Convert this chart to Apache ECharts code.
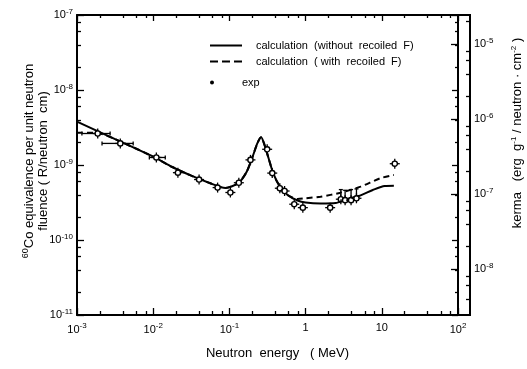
<!DOCTYPE html>
<html>
<head>
<meta charset="utf-8">
<script src="https://cdn.jsdelivr.net/npm/echarts@6/dist/echarts.min.js"></script>
<style>
html, body { margin: 0; background: #fff; }
#dataView { width: 527px; height: 369px; }
</style>
</head>
<body>
<div id="dataView"></div>
<script>
// calculated curve, without recoiled F (solid)
var energyCalc = [0.001, 0.00316, 0.01, 0.0178, 0.0316, 0.0562, 0.0886, 0.131, 0.168, 0.201, 0.234, 0.261,
	0.289, 0.326, 0.379, 0.455, 0.58, 0.785, 1.0, 1.57, 2.48, 3.36, 4.98, 7.62, 10.9, 14.4];
var withoutRecoil = [3.78e-9, 2.21e-9, 1.29e-9, 9.4e-10, 7.2e-10, 5.7e-10, 4.93e-10, 5.75e-10, 8.07e-10, 1.28e-9, 1.97e-9, 2.34e-9,
	1.85e-9, 1.24e-9, 7.6e-10, 5.25e-10, 3.98e-10, 3.36e-10, 3.16e-10, 3.07e-10, 3.11e-10, 3.47e-10, 3.86e-10, 4.64e-10, 5.25e-10, 5.3e-10];

// calculated curve, with recoiled F (dashed)
var energyDashed = [0.001, 0.0019, 0.00316, 0.01, 0.0178, 0.0316, 0.0562, 0.0886, 0.131, 0.168, 0.201, 0.234, 0.261,
	0.289, 0.326, 0.379, 0.455, 0.58, 0.785, 1.0, 1.57, 2.86, 5.27, 9.5, 14.4];
var withRecoil = [2.7e-9, 2.66e-9, 2.21e-9, 1.29e-9, 9.4e-10, 7.2e-10, 5.7e-10, 4.93e-10, 5.75e-10, 8.07e-10, 1.28e-9, 1.97e-9, 2.34e-9,
	1.85e-9, 1.24e-9, 7.6e-10, 5.25e-10, 3.98e-10, 3.52e-10, 3.6e-10, 3.78e-10, 4.27e-10, 5.14e-10, 6.65e-10, 7.36e-10];

// experiment (0 = no error bar)
var expE = [0.00187, 0.0037, 0.011, 0.0211, 0.040, 0.070, 0.103, 0.133, 0.189, 0.313, 0.365, 0.459, 0.53,
	0.71, 0.92, 2.1, 2.9, 3.3, 3.95, 4.65, 14.8];
var expV = [2.63e-9, 1.94e-9, 1.26e-9, 7.9e-10, 6.4e-10, 5.0e-10, 4.3e-10, 5.8e-10, 1.17e-9, 1.62e-9, 7.8e-10, 4.9e-10, 4.5e-10,
	3.0e-10, 2.7e-10, 2.7e-10, 3.5e-10, 3.4e-10, 3.4e-10, 3.6e-10, 1.04e-9];
var expELo = [0.00116, 0.00213, 0.0089, 0, 0, 0, 0, 0, 0, 0, 0, 0, 0, 0, 0, 0, 0, 0, 0, 0, 0];
var expEHi = [0.00272, 0.00546, 0.0144, 0, 0, 0, 0, 0, 0, 0, 0, 0, 0, 0, 0, 0, 0, 0, 0, 0, 0];
var expVHi = [0, 0, 0, 0, 0, 0, 0, 0, 0, 0, 0, 0, 0, 0, 0, 0, 4.7e-10, 4.6e-10, 4.7e-10, 4.8e-10, 0];

// ticks
var majorX = [1e-3, 1e-2, 1e-1, 1, 10, 100];
var majorY = [1e-11, 1e-10, 1e-9, 1e-8, 1e-7];
var majorK = [1e-8, 1e-7, 1e-6, 1e-5];
var minorMult = [2, 4, 6, 8];

function minorOf(decades) {
	var out = [];
	decades.forEach(function(d) {
		minorMult.forEach(function(m) { out.push(d * m); });
	});
	return out;
}
var minorX = minorOf([1e-3, 1e-2, 1e-1, 1, 10]);
var minorY = minorOf([1e-11, 1e-10, 1e-9, 1e-8]);
var minorK = minorOf([1e-9, 1e-8, 1e-7, 1e-6, 1e-5]);

var FONT = "'Liberation Sans', sans-serif";
var NARROW = "'Liberation Sans Narrow', 'Liberation Sans', sans-serif";
var rich = {
	b: { fontSize: 11, fontFamily: FONT, color: '#000' },
	e: { fontSize: 8, fontFamily: FONT, color: '#000', padding: [0, 0, 7, 0] }
};
function powLabel(v) {
	var e = Math.round(Math.log10(v));
	if (e === 0) return '{b|1}';
	if (e === 1) return '{b|10}';
	return '{b|10}{e|' + e + '}';
}

function lineData(xs, ys) {
	return xs.map(function(x, i) { return [x, ys[i]]; });
}
var expData = expE.map(function(x, i) {
	return [x, expV[i], expELo[i], expEHi[i], expVHi[i]];
});

function tickAxis(pos, grid, min, max, major, minor, len, isMinor) {
	return {
		type: 'log', logBase: 10, gridIndex: grid, position: pos, min: min, max: max,
		axisLine: { show: !isMinor, lineStyle: { color: '#000', width: 2 } },
		axisTick: { show: true, inside: true, length: len, customValues: isMinor ? minor : major,
			lineStyle: { color: '#000', width: 1.3 } },
		axisLabel: { show: false },
		splitLine: { show: false },
		minorTick: { show: false }
	};
}

function renderExp(params, api) {
	var p = api.coord([api.value(0), api.value(1)]);
	var st = { stroke: '#000', lineWidth: 1.3, fill: null };
	var kids = [];
	var lo = api.value(2), hi = api.value(3), vhi = api.value(4);
	if (lo > 0) {
		var a = api.coord([lo, api.value(1)]), b = api.coord([hi, api.value(1)]);
		kids.push({ type: 'line', shape: { x1: a[0], y1: p[1], x2: b[0], y2: p[1] }, style: st });
		kids.push({ type: 'line', shape: { x1: a[0], y1: p[1] - 2, x2: a[0], y2: p[1] + 2 }, style: st });
		kids.push({ type: 'line', shape: { x1: b[0], y1: p[1] - 2, x2: b[0], y2: p[1] + 2 }, style: st });
	}
	if (vhi > 0) {
		var c = api.coord([api.value(0), vhi]);
		kids.push({ type: 'line', shape: { x1: p[0], y1: p[1], x2: p[0], y2: c[1] }, style: st });
		kids.push({ type: 'line', shape: { x1: p[0] - 2, y1: c[1], x2: p[0] + 2, y2: c[1] }, style: st });
	}
	kids.push({ type: 'line', shape: { x1: p[0] - 5, y1: p[1], x2: p[0] + 5, y2: p[1] }, style: st });
	kids.push({ type: 'line', shape: { x1: p[0], y1: p[1] - 5, x2: p[0], y2: p[1] + 5 }, style: st });
	kids.push({ type: 'circle', shape: { cx: p[0], cy: p[1], r: 2.6 },
		style: { stroke: '#000', lineWidth: 1.4, fill: '#fff' } });
	return { type: 'group', children: kids };
}

var SOLID_NAME = 'calculation  (without  recoiled  F)';
var DASH_NAME = 'calculation  ( with  recoiled  F)';

var dataViewcharts = echarts.init(document.getElementById('dataView'), null, { renderer: 'canvas' });
var dataViewoption = {
	backgroundColor: '#fff',
	animation: false,
	textStyle: { fontFamily: FONT, color: '#000' },
	grid: [
		{ left: 77, right: 69, top: 15, bottom: 54, show: false },
		{ left: 458, right: 57, top: 15, bottom: 54, show: true, borderColor: '#000', borderWidth: 2, backgroundColor: 'transparent' }
	],
	legend: [{
		left: 205, top: 35, orient: 'vertical', itemWidth: 32, itemHeight: 10, itemGap: 5,
		textStyle: { fontSize: 11, fontFamily: NARROW, color: '#000', padding: [0, 0, 0, 9] },
		data: [
			{ name: SOLID_NAME, icon: 'path://M0,0H32V2H0Z', itemStyle: { color: '#000' } },
			{ name: DASH_NAME, icon: 'path://M0,0H8V2H0Z M12,0H20V2H12Z M24,0H32V2H24Z', itemStyle: { color: '#000' } }
		]
	}, {
		left: 205, top: 72, orient: 'vertical', itemWidth: 32, itemHeight: 4,
		textStyle: { fontSize: 11, fontFamily: NARROW, color: '#000', padding: [0, 0, 0, 9] },
		data: [{ name: 'exp', icon: 'circle', itemStyle: { color: '#000' } }]
	}],
	xAxis: [
		{
			type: 'log', logBase: 10, gridIndex: 0, position: 'bottom', min: 1e-3, max: 100,
			name: 'Neutron  energy   ( MeV)', nameLocation: 'middle', nameGap: 32,
			nameTextStyle: { fontSize: 13, fontFamily: FONT, color: '#000', padding: [0, 0, 0, 20] },
			axisLine: { lineStyle: { color: '#000', width: 2 } },
			axisTick: { inside: true, length: 7, customValues: majorX, lineStyle: { color: '#000', width: 1.3 } },
			axisLabel: { customValues: majorX, margin: 7, formatter: powLabel, rich: rich },
			splitLine: { show: false }
		},
		tickAxis('bottom', 0, 1e-3, 100, majorX, minorX, 4, true),
		tickAxis('top', 0, 1e-3, 100, majorX, minorX, 6, false),
		tickAxis('top', 0, 1e-3, 100, majorX, minorX, 3, true),
		{ type: 'value', gridIndex: 1, show: false, min: 0, max: 1 }
	],
	yAxis: [
		{
			type: 'log', logBase: 10, gridIndex: 0, position: 'left', min: 1e-11, max: 1e-7,
			name: '{s|60}Co equivalence per unit neutron\nfluence ( R/neutron  cm)',
			nameLocation: 'middle', nameRotate: 90, nameGap: 27, nameMoveOverlap: false,
			nameTextStyle: { fontSize: 13, fontFamily: FONT, color: '#000', lineHeight: 14, padding: [0, 0, 0, 8],
				rich: { s: { fontSize: 9, fontFamily: FONT, padding: [0, 0, 6, 0] } } },
			axisLine: { lineStyle: { color: '#000', width: 2 } },
			axisTick: { inside: true, length: 7, customValues: majorY, lineStyle: { color: '#000', width: 1.3 } },
			axisLabel: { customValues: majorY, margin: 4, formatter: powLabel, rich: rich },
			splitLine: { show: false }
		},
		tickAxis('left', 0, 1e-11, 1e-7, majorY, minorY, 4, true),
		tickAxis('right', 0, 1e-11, 1e-7, majorY, minorY, 6, false),
		tickAxis('right', 0, 1e-11, 1e-7, majorY, minorY, 3, true),
		{
			type: 'log', logBase: 10, gridIndex: 1, position: 'right', min: Math.pow(10, -8.613), max: Math.pow(10, -4.613),
			name: 'kerma   (erg  g{s|-1} / neutron · cm{s|-2} )', nameLocation: 'middle', nameRotate: 90, nameGap: 40,
			nameTextStyle: { fontSize: 13, fontFamily: FONT, color: '#000', padding: [0, 0, 0, 64],
				rich: { s: { fontSize: 8, fontFamily: FONT, padding: [0, 0, 6, 0] } } },
			axisLine: { lineStyle: { color: '#000', width: 2 } },
			axisTick: { inside: true, length: 7, customValues: majorK, lineStyle: { color: '#000', width: 1.3 } },
			axisLabel: { customValues: majorK, margin: 4, formatter: powLabel, rich: rich },
			splitLine: { show: false }
		},
		tickAxis('right', 1, Math.pow(10, -8.613), Math.pow(10, -4.613), majorK, minorK, 4, true)
	],
	series: [
		{
			name: SOLID_NAME, type: 'line', xAxisIndex: 0, yAxisIndex: 0,
			data: lineData(energyCalc, withoutRecoil), smooth: 0.25, symbol: 'none',
			lineStyle: { color: '#000', width: 2 }, itemStyle: { color: '#000' }, z: 3
		},
		{
			name: DASH_NAME, type: 'line', xAxisIndex: 0, yAxisIndex: 0,
			data: lineData(energyDashed, withRecoil), smooth: 0.25, symbol: 'none',
			lineStyle: { color: '#000', width: 2, type: [6, 4] }, itemStyle: { color: '#000' }, z: 3
		},
		{
			name: 'exp', type: 'custom', xAxisIndex: 0, yAxisIndex: 0,
			encode: { x: 0, y: 1 }, data: expData, renderItem: renderExp,
			itemStyle: { color: '#000' }, z: 5
		}
	]
};
dataViewcharts.setOption(dataViewoption);
</script>
</body>
</html>
